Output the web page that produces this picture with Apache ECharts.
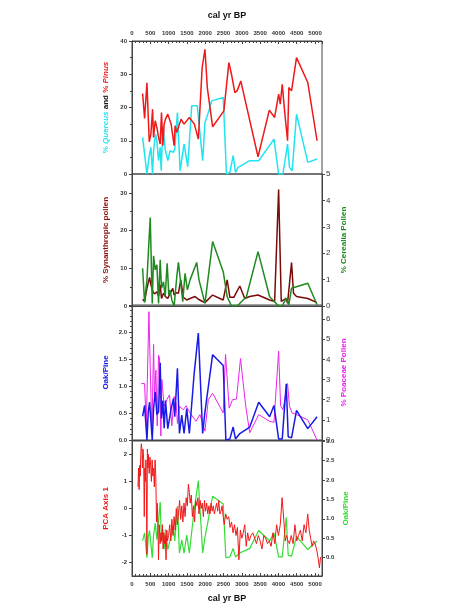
<!DOCTYPE html>
<html>
<head>
<meta charset="utf-8">
<script src="https://cdn.jsdelivr.net/npm/echarts@6/dist/echarts.min.js"></script>
<style>
  html, body { margin: 0; padding: 0; background: #fff; }
  #chart { width: 456px; height: 606px; }
</style>
</head>
<body>
<div id="chart"></div>
<script>
  // ages are cal yr BP

  var quercusYears = [290, 344, 408, 471, 516, 562, 589, 643, 680, 725, 770, 797, 843, 906, 978, 1042, 1133, 1169, 1241, 1314,
    1422, 1522, 1631, 1784, 1930, 1993, 2102, 2175, 2492, 2580, 2673, 2763, 2827, 2900, 3216, 3461, 3878, 4005, 4122,
    4249, 4303, 4376, 4494, 4802, 5055];
  var quercus = [11, 10.7, 0, 5.5, 8, 0, 7, 12, 10, 4, 8, 1, 14.5, 7.5, 4, 7, 6.5, 7.5, 18.5, 1,
    9, 2.2, 20.5, 20.5, 4, 15.5, 19, 22, 23, 0, 0.5, 5.5, 0.5, 2, 4, 4, 10.5, 0, 0,
    9, 2, 1, 18, 3.5, 4.5];

  var pinusYears = [290, 344, 408, 471, 516, 562, 589, 634, 680, 725, 770, 806, 843, 879, 915, 978, 1069, 1151, 1178, 1223,
    1341, 1422, 1567, 1703, 1812, 1916, 1993, 2057, 2202, 2510, 2646, 2718, 2809, 2872, 2972, 3053, 3443, 3751, 3896, 4005,
    4050, 4104, 4168, 4249, 4285, 4358, 4494, 4802, 5055];
  var pinus = [24.2, 16.7, 27.4, 9.7, 12, 19.5, 11, 16, 14, 11, 9, 18.5, 8.5, 15, 16.5, 18, 15, 8.5, 14.5, 12.5,
    16.5, 15, 17, 15, 10.5, 32, 37.5, 26, 14.2, 19, 33.5, 30, 24.5, 25, 28, 24, 5.2, 19.2, 17, 24,
    21, 27, 19, 10, 26, 25, 35, 27.5, 10];

  var synYears = [290, 344, 408, 480, 516, 571, 616, 680, 725, 770, 806, 861, 915, 978, 1042, 1114, 1151, 1205, 1268, 1332,
    1404, 1495, 1586, 1721, 1812, 1930, 1993, 2202, 2492, 2600, 2673, 2781, 2945, 3080, 3216, 3443, 3760, 3896, 4005, 4077,
    4122, 4213, 4249, 4358, 4412, 4494, 4802, 5055];
  var synanthropic = [1.8, 1.2, 4.7, 7.6, 5.6, 3.8, 3.2, 3.8, 2.7, 5.6, 2.0, 3.4, 2.5, 2.0, 3.4, 4.7, 2.9, 3.5, 3.4, 6.9,
    2.3, 1.6, 2.0, 2.5, 1.8, 1.2, 0.9, 2.9, 1.6, 6.9, 2.3, 2.3, 5.3, 2.0, 2.5, 2.9, 1.6, 1.2, 30.9, 1.2,
    0.7, 2.0, 0.7, 11.5, 3.4, 2.5, 2.0, 0.9];

  var cerYears = [290, 344, 408, 498, 553, 589, 634, 680, 725, 770, 806, 861, 906, 960, 1006, 1042, 1087, 1133, 1151, 1223,
    1268, 1332, 1386, 1450, 1513, 1586, 1767, 1830, 1993, 2202, 2492, 2600, 2718, 2872, 3125, 3443, 3760, 4005, 4104, 4213,
    4285, 4358, 4802, 5055];
  var cerealia = [1.43, 0.13, 1.0, 3.35, 0.1, 1.9, 1.37, 1.56, 0.1, 1.75, 0.67, 0.92, 0.35, 1.62, 0.42, 0.6, 0.23, 0.16, 0, 1.11,
    1.65, 0.86, 0.16, 1.24, 0.61, 0.99, 1.65, 0.99, 0.1, 2.44, 1.3, 0.35, 0, 0, 0.35, 2.06, 0.35, 0, 0, 0.3,
    0.05, 0.67, 0.86, 0.05];

  var oakYears = [290, 344, 408, 444, 480, 553, 589, 634, 680, 725, 770, 806, 843, 879, 915, 978, 1069, 1133, 1169, 1241,
    1296, 1359, 1422, 1495, 1567, 1694, 1812, 1930, 1993, 2102, 2202, 2492, 2564, 2673, 2763, 2827, 2945, 3216, 3461, 3760,
    3878, 4005, 4104, 4213, 4267, 4358, 4494, 4802, 5055];
  var oakPine = [0.44, 0.64, 0, 0.52, 0.7, 0, 0.58, 0.89, 0.47, 0.52, 1.43, 0.4, 0.73, 0.22, 0.73, 0.21, 0.58, 0.77, 0.43, 1.33,
    0.12, 0.46, 0.12, 0.58, 0.12, 1.2, 1.98, 0.12, 0.52, 1.07, 1.58, 1.38, 0, 0.02, 0.24, 0.02, 0.12, 0.24, 0.7, 0.43,
    0.64, 0.02, 0.02, 1.04, 0.06, 0.04, 0.55, 0.21, 0.43];

  var poaYears = [254, 344, 390, 462, 498, 544, 589, 616, 652, 689, 725, 752, 788, 815, 879, 951, 1024, 1087, 1151, 1205,
    1241, 1296, 1404, 1477, 1586, 1748, 1857, 1993, 2084, 2202, 2492, 2555, 2655, 2745, 2854, 2963, 3108, 3216, 3461, 3760,
    3878, 4005, 4059, 4122, 4249, 4303, 4376, 4494, 4802, 5055];
  var poaceae = [2.8, 2.8, 0.7, 6.37, 3.6, 0.36, 4.74, 2.0, 3.46, 0.7, 4.2, 4.1, 0.2, 3.0, 1.67, 2.0, 2.24, 0.7, 2.16, 1.83,
    0.82, 1.67, 1.5, 1.7, 1.34, 0.93, 1.26, 0.44, 2.0, 2.32, 1.34, 4.25, 1.58, 2.0, 2.03, 4.04, 1.67, 0.36, 1.26, 0.93,
    0.88, 4.41, 1.7, 1.5, 2.8, 1.67, 1.34, 1.26, 1.0, 0];

  // PCA axis 1 (dense record)
  var pcaYears = [163, 180, 195, 210, 225, 240, 254, 270, 285, 300, 320, 335, 350, 365, 380, 395, 408, 420, 435, 450,
    470, 490, 510, 530, 550, 570, 590, 610, 630, 650, 670, 690, 710, 725, 745, 770, 790, 810, 830, 850,
    870, 890, 910, 930, 950, 970, 1000, 1030, 1060, 1090, 1120, 1150, 1180, 1210, 1240, 1270, 1300, 1330, 1360, 1390,
    1420, 1450, 1480, 1510, 1540, 1567, 1590, 1620, 1650, 1680, 1710, 1740, 1770, 1800, 1830, 1860, 1890, 1920, 1950, 1980,
    2010, 2040, 2070, 2100, 2130, 2160, 2190, 2220, 2250, 2280, 2310, 2340, 2370, 2400, 2430, 2460, 2490, 2520, 2560, 2600,
    2640, 2680, 2720, 2760, 2800, 2840, 2880, 2920, 2960, 3000, 3040, 3080, 3120, 3160, 3200, 3250, 3300, 3350, 3400, 3450,
    3500, 3550, 3600, 3650, 3700, 3750, 3800, 3850, 3900, 3950, 4000, 4050, 4100, 4150, 4186, 4220, 4260, 4300, 4350, 4400,
    4450, 4500, 4550, 4600, 4650, 4700, 4750, 4800, 4840, 4880, 4920, 4960, 5000, 5040, 5080, 5120, 5150];
  var pca = [0.8, 1.5, 0.7, 1.6, 1.2, 2.0, 2.4, 2.2, 1.5, 2.2, 1.8, -0.3, 1.5, 1.0, 1.8, 0.5, -1.7, 2.2, 1.5, 2.0,
    1.3, 1.9, 1.6, 1.0, 1.8, 1.2, 1.5, 0.8, 1.8, 1.2, -0.5, 0.2, -0.8, -1.9, -0.6, -1.3, -0.9, -1.2, -0.6, -1.5,
    -0.9, -1.3, -1.0, -1.9, -0.8, -1.2, -1.0, -0.6, -1.2, -0.4, -1.0, -0.3, -0.8, 0.0, -0.6, -0.2, 0.3, -0.4, 0.1, -0.5,
    0.2, -0.3, 0.4, 0.1, 0.9, 0.6, 0.2, 0.5, -0.3, 0.1, -0.5, 0.3, 0.1, 0.4, -0.2, 0.3, 0.0, 0.2, -0.3, 0.3,
    -0.1, 0.2, -0.2, 0.1, -0.2, 0.2, -0.1, 0.1, -0.2, 0.0, 0.2, -0.1, 0.3, -0.2, -0.1, 0.1, -0.3, -0.6, -0.2, -0.4,
    -0.3, -0.7, -0.5, -0.9, -0.6, -1.0, -0.7, -1.9, -0.8, -1.1, -0.9, -0.6, -1.4, -0.9, -1.2, -1.0, -0.9, -1.1, -1.3, -1.0,
    -1.2, -1.5, -1.0, -1.1, -1.3, -1.2, -1.4, -0.9, -1.3, -0.6, -1.0, -0.6, 0.4, -0.5, -1.2, -1.0, -1.2, -1.3, -1.0, -1.3,
    -0.6, -1.2, -1.0, -0.8, -1.2, -0.6, -0.9, -0.2, -0.8, -1.1, -1.4, -1.2, -1.3, -1.5, -1.8, -2.2, -1.8];

  var xTicks = [0, 500, 1000, 1500, 2000, 2500, 3000, 3500, 4000, 4500, 5000];

  function pairs(xs, ys) {
    return xs.map(function (x, i) { return [x, ys[i]]; });
  }

  var chartDom = document.getElementById('chart');
  var myChart = echarts.init(chartDom);

  var frame = '#444';
  var font = 'Liberation Sans, Arial, sans-serif';
  var labelStyle = { fontFamily: font, fontSize: 6, fontWeight: 'bold', color: '#333' };
  var nameFont = { fontFamily: font, fontSize: 8, fontWeight: 'bold' };

  var grids = [
    { left: 132, right: 134, top: 41, height: 133 },
    { left: 132, right: 134, top: 174, height: 132 },
    { left: 132, right: 134, top: 305, height: 135 },
    { left: 132, right: 134, top: 441, height: 135 },
  ];

  function xAxis(i, opts) {
    return Object.assign({
      type: 'value', gridIndex: i, min: 0, max: 5190, interval: 500,
      axisLine: { show: true, onZero: false, lineStyle: { color: frame } },
      axisTick: { show: false },
      axisLabel: { show: false },
      splitLine: { show: false },
    }, opts);
  }
  var xLabeled = {
    axisTick: { show: true, inside: true, length: 3, lineStyle: { color: frame } },
    minorTick: { show: true, splitNumber: 5, length: 2, lineStyle: { color: frame } },
    axisLabel: Object.assign({ show: true, margin: 5, showMaxLabel: false,
      formatter: function (v) { return xTicks.indexOf(v) >= 0 ? v : ''; } }, labelStyle),
    nameLocation: 'middle',
    nameTextStyle: { fontFamily: font, fontSize: 9, fontWeight: 'bold', color: '#111' },
    name: 'cal yr BP',
  };

  function yAxis(i, pos, opts) {
    return Object.assign({
      type: 'value', gridIndex: i, position: pos,
      axisLine: { show: true, onZero: false, lineStyle: { color: frame } },
      axisTick: { show: true, length: 3, lineStyle: { color: frame } },
      axisLabel: Object.assign({ margin: 5, showMaxLabel: false, showMinLabel: true }, labelStyle),
      splitLine: { show: false },
      nameLocation: 'middle',
      nameRotate: 90,
    }, opts);
  }

  var option = {
    animation: false,
    grid: grids.map(function (g) { return Object.assign({ show: true, borderColor: frame, borderWidth: 1 }, g); }),
    xAxis: [
      xAxis(0, Object.assign({}, xLabeled, { position: 'top', nameGap: 21 })),
      xAxis(1),
      xAxis(2),
      xAxis(3, Object.assign({}, xLabeled, { position: 'bottom', nameGap: 18 })),
    ],
    yAxis: [
      yAxis(0, 'left', {
        min: 0, max: 40, interval: 10,
        axisLabel: Object.assign({ margin: 5, showMaxLabel: true }, labelStyle),
        minorTick: { show: true, splitNumber: 2, length: 2, lineStyle: { color: frame } },
        name: '{c|% }{ci|Quercus}{k| and }{r|% }{ri|Pinus}', nameGap: 22,
        nameTextStyle: {
          rich: {
            c: Object.assign({ color: '#22e3f0' }, nameFont),
            ci: Object.assign({ color: '#22e3f0', fontStyle: 'italic' }, nameFont),
            k: Object.assign({ color: '#111' }, nameFont),
            r: Object.assign({ color: '#f01818' }, nameFont),
            ri: Object.assign({ color: '#f01818', fontStyle: 'italic' }, nameFont),
          },
        },
      }),
      yAxis(1, 'left', {
        min: 0, max: 35, interval: 10,
        minorTick: { show: true, splitNumber: 2, length: 2, lineStyle: { color: frame } },
        name: '% Synanthropic pollen', nameGap: 22,
        nameTextStyle: Object.assign({ color: '#8b1010' }, nameFont),
      }),
      yAxis(1, 'right', {
        min: 0, max: 5, interval: 1,
        axisLabel: Object.assign({ margin: 4, showMaxLabel: true }, labelStyle, { fontSize: 8, fontWeight: 'normal' }),
        name: '% Cerealia Pollen', nameGap: 18,
        nameTextStyle: Object.assign({ color: '#1f8a1f' }, nameFont),
      }),
      yAxis(2, 'left', {
        min: 0, max: 2.5, interval: 0.5,
        axisLabel: Object.assign({ margin: 5, showMaxLabel: false,
          formatter: function (v) { return v.toFixed(1); } }, labelStyle),
        minorTick: { show: true, splitNumber: 5, length: 2, lineStyle: { color: frame } },
        name: 'Oak/Pine', nameGap: 22,
        nameTextStyle: Object.assign({ color: '#1a1ae8' }, nameFont),
      }),
      yAxis(2, 'right', {
        min: 0, max: 6.7, interval: 1,
        axisLabel: Object.assign({ margin: 4, showMaxLabel: false }, labelStyle, { fontSize: 8, fontWeight: 'normal' }),
        name: '% Poaceae Pollen', nameGap: 18,
        nameTextStyle: Object.assign({ color: '#ee22ee' }, nameFont),
      }),
      yAxis(3, 'left', {
        min: -2.5, max: 2.5,
        axisLabel: Object.assign({ margin: 5, showMaxLabel: false, showMinLabel: false }, labelStyle),
        name: 'PCA Axis 1', nameGap: 22,
        nameTextStyle: Object.assign({ color: '#f01818' }, nameFont),
      }),
      yAxis(3, 'right', {
        min: -0.47, max: 3.0,
        axisLabel: Object.assign({ margin: 4, showMaxLabel: true, showMinLabel: false,
          formatter: function (v) { return v.toFixed(1); } }, labelStyle),
        name: 'Oak/Pine', nameGap: 20,
        nameTextStyle: Object.assign({ color: '#33dd33' }, nameFont),
      }),
    ],
    series: [
      { type: 'line', xAxisIndex: 0, yAxisIndex: 0, data: pairs(quercusYears, quercus), showSymbol: false,
        lineStyle: { color: '#22e3f0', width: 1.5 } },
      { type: 'line', xAxisIndex: 0, yAxisIndex: 0, data: pairs(pinusYears, pinus), showSymbol: false,
        lineStyle: { color: '#f01818', width: 1.5 } },
      { type: 'line', xAxisIndex: 1, yAxisIndex: 1, data: pairs(synYears, synanthropic), showSymbol: false,
        lineStyle: { color: '#7a0a0a', width: 1.5 } },
      { type: 'line', xAxisIndex: 1, yAxisIndex: 2, data: pairs(cerYears, cerealia), showSymbol: false,
        lineStyle: { color: '#1f8a1f', width: 1.5 } },
      { type: 'line', xAxisIndex: 2, yAxisIndex: 4, data: pairs(poaYears, poaceae), showSymbol: false,
        lineStyle: { color: '#ee22ee', width: 1 } },
      { type: 'line', xAxisIndex: 2, yAxisIndex: 3, data: pairs(oakYears, oakPine), showSymbol: false,
        lineStyle: { color: '#1a1ae8', width: 1.5 } },
      { type: 'line', xAxisIndex: 3, yAxisIndex: 6, data: pairs(oakYears, oakPine), showSymbol: false,
        lineStyle: { color: '#33dd33', width: 1.2 } },
      { type: 'line', xAxisIndex: 3, yAxisIndex: 5, data: pairs(pcaYears, pca), showSymbol: false,
        lineStyle: { color: '#f01818', width: 1 } },
    ],
  };

  myChart.setOption(option);
</script>
</body>
</html>
